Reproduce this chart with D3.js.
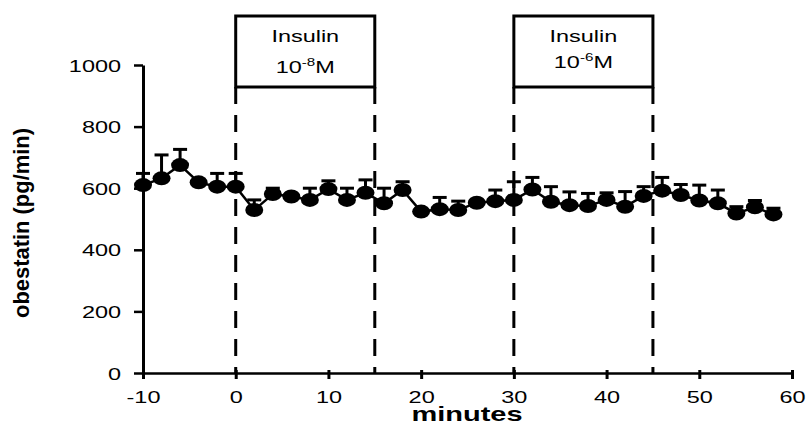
<!DOCTYPE html>
<html>
<head>
<meta charset="utf-8">
<script src="https://cdn.jsdelivr.net/npm/d3@7"></script>
<style>
  body { margin: 0; background: #fff; }
  text { font-family: "Liberation Sans", Arial, sans-serif; }
</style>
</head>
<body>
<script>
const width = 808;
const height = 427;

// time points (minutes)
const minutos = [-10, -8, -6, -4, -2, 0, 2, 4, 6, 8, 10, 12, 14, 16, 18, 20, 22, 24,
  26, 28, 30, 32, 34, 36, 38, 40, 42, 44, 46, 48, 50, 52, 54, 56, 58];
// obestatin (pg/min)
const obestatina = [610, 632, 675, 619, 605, 605, 529, 581, 573, 562, 597, 562, 585,
  551, 594, 524, 532, 529, 553, 558, 562, 596, 556, 545, 542, 562, 540, 575, 592, 578,
  560, 551, 518, 538, 515];
// SEM (upper bars only)
const errores = [38, 76, 51, 8, 43, 43, 33, 19, 8, 38, 27, 38, 42, 49, 27, 8, 38, 29,
  8, 36, 59, 39, 49, 43, 41, 23, 49, 30, 43, 34, 50, 43, 22, 22, 20];

const ticksX = [-10, 0, 10, 20, 30, 40, 50, 60];
const ticksY = [0, 200, 400, 600, 800, 1000];

// insulin periods
const periodos = [
  { inicio: 0, fin: 15, exp: "-8" },
  { inicio: 30, fin: 45, exp: "-6" }
];

const estirar = 1.38;

const svg = d3
  .select("body")
  .append("svg")
  .attr("width", width)
  .attr("height", height);

const x = d3.scaleLinear().domain([-10, 60]).range([143, 792]);
const y = d3.scaleLinear().domain([0, 1000]).range([373, 65]);

const datos = minutos.map((m, i) => ({ m: m, v: obestatina[i], e: errores[i] }));

// insulin boxes and dashed lines
const cajaTop = 16;
const cajaBottom = 87;
periodos.forEach((p) => {
  svg
    .append("rect")
    .attr("x", x(p.inicio))
    .attr("y", cajaTop)
    .attr("width", x(p.fin) - x(p.inicio))
    .attr("height", cajaBottom - cajaTop)
    .attr("fill", "none")
    .attr("stroke", "#000")
    .attr("stroke-width", 3);

  [p.inicio, p.fin].forEach((t) => {
    svg
      .append("line")
      .attr("x1", x(t))
      .attr("x2", x(t))
      .attr("y1", cajaBottom)
      .attr("y2", y(0))
      .attr("stroke", "#000")
      .attr("stroke-width", 3)
      .attr("stroke-dasharray", "17,11");
  });

  const cx = (x(p.inicio) + x(p.fin)) / 2;
  svg
    .append("text")
    .attr("transform", `translate(${cx},42) scale(${estirar},1)`)
    .attr("text-anchor", "middle")
    .attr("font-size", 17)
    .text("Insulin");

  const t = svg
    .append("text")
    .attr("transform", `translate(${cx},${p.exp === "-8" ? 73 : 68}) scale(${estirar},1)`)
    .attr("text-anchor", "middle")
    .attr("font-size", 17);
  t.append("tspan").text("10");
  t.append("tspan").attr("font-size", 11).attr("dy", -7).text(p.exp);
  t.append("tspan").attr("dy", 7).text("M");
});

// axes
const ejeY = svg
  .append("g")
  .attr("transform", `translate(${x(-10)},0)`)
  .call(
    d3.axisLeft(y).tickValues(ticksY).tickSize(9).tickSizeOuter(0)
      .tickFormat((d) => String(d))
  );

ejeY.select(".domain").attr("stroke-width", 3);
ejeY.selectAll(".tick line").attr("stroke-width", 2.5);
ejeY
  .selectAll(".tick text")
  .attr("x", 0)
  .attr("dy", "0.36em")
  .attr("font-size", 17)
  .attr("fill", "#000")
  .attr("font-family", "Liberation Sans, Arial, sans-serif")
  .attr("transform", `translate(-22,0) scale(${estirar},1)`);

const ejeX = svg
  .append("g")
  .attr("transform", `translate(0,${y(0)})`)
  .call(
    d3.axisBottom(x).tickValues(ticksX).tickSize(6).tickSizeOuter(0)
      .tickFormat((d) => String(d))
  );

ejeX.select(".domain").attr("stroke-width", 2.5);
ejeX.selectAll(".tick line").attr("y1", -3).attr("stroke-width", 3);
ejeX
  .selectAll(".tick text")
  .attr("y", 18)
  .attr("dy", "0.71em")
  .attr("font-size", 17)
  .attr("fill", "#000")
  .attr("font-family", "Liberation Sans, Arial, sans-serif")
  .attr("transform", `scale(${estirar},1)`);

// axis titles
svg
  .append("text")
  .attr("transform", `translate(467,421) scale(${estirar},1)`)
  .attr("text-anchor", "middle")
  .attr("font-size", 21)
  .attr("font-weight", "bold")
  .text("minutes");

svg
  .append("text")
  .attr("transform", "translate(29,223) rotate(-90)")
  .attr("text-anchor", "middle")
  .attr("font-size", 22)
  .attr("font-weight", "bold")
  .attr("textLength", 190)
  .attr("lengthAdjust", "spacingAndGlyphs")
  .text("obestatin (pg/min)");

// error bars
const barras = svg.append("g").attr("stroke", "#000").attr("stroke-width", 3);
barras
  .selectAll("line.v")
  .data(datos)
  .enter()
  .append("line")
  .attr("class", "v")
  .attr("x1", (d) => x(d.m))
  .attr("x2", (d) => x(d.m))
  .attr("y1", (d) => y(d.v))
  .attr("y2", (d) => y(d.v + d.e));
barras
  .selectAll("line.c")
  .data(datos)
  .enter()
  .append("line")
  .attr("class", "c")
  .attr("x1", (d) => x(d.m) - 7)
  .attr("x2", (d) => x(d.m) + 7)
  .attr("y1", (d) => y(d.v + d.e))
  .attr("y2", (d) => y(d.v + d.e));

// connecting line
svg
  .append("path")
  .datum(datos)
  .attr("fill", "none")
  .attr("stroke", "#000")
  .attr("stroke-width", 2.5)
  .attr("d", d3.line().x((d) => x(d.m)).y((d) => y(d.v)));

// markers
svg
  .selectAll("ellipse")
  .data(datos)
  .enter()
  .append("ellipse")
  .attr("cx", (d) => x(d.m))
  .attr("cy", (d) => y(d.v))
  .attr("rx", 9)
  .attr("ry", 7)
  .attr("fill", "#000");
</script>
</body>
</html>
